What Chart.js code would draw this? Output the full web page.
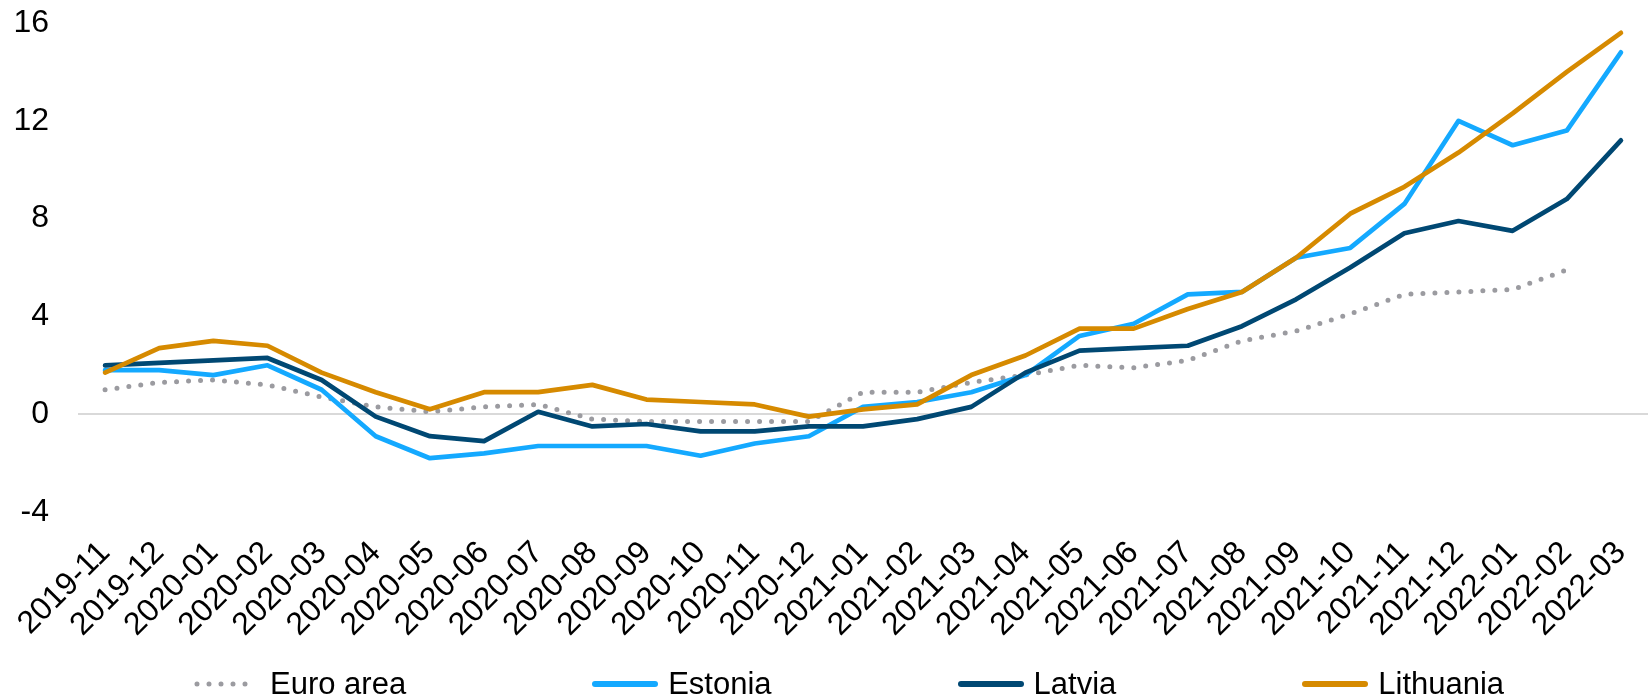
<!DOCTYPE html>
<html>
<head>
<meta charset="utf-8">
<script src="https://cdn.jsdelivr.net/npm/chart.js@4.4.1/dist/chart.umd.min.js"></script>
<style>
    body { margin: 0; background: #fff; font-family: 'Liberation Sans', Arial, sans-serif; }
    #wrap { position: relative; width: 1648px; height: 698px; }
    #legend { position: absolute; left: 194px; top: 667px; display: flex; gap: 186px; }
    .item { display: flex; align-items: center; font-size: 31px; line-height: 34px; color: #000; }
    .item svg { margin-right: 10px; }
</style>
</head>
<body>
<div id="wrap">
    <canvas id="inflationChart" width="1648" height="698"></canvas>
    <div id="legend"></div>
</div>
<script>
const months = ['2019-11', '2019-12', '2020-01', '2020-02', '2020-03', '2020-04', '2020-05', '2020-06',
    '2020-07', '2020-08', '2020-09', '2020-10', '2020-11', '2020-12', '2021-01', '2021-02', '2021-03',
    '2021-04', '2021-05', '2021-06', '2021-07', '2021-08', '2021-09', '2021-10', '2021-11', '2021-12',
    '2022-01', '2022-02', '2022-03'];

const euroArea = [1.0, 1.3, 1.4, 1.2, 0.7, 0.3, 0.1, 0.3, 0.4, -0.2, -0.3, -0.3, -0.3, -0.3,
    0.9, 0.9, 1.3, 1.6, 2.0, 1.9, 2.2, 3.0, 3.4, 4.1, 4.9, 5.0, 5.1, 5.9, null];
const estonia = [1.8, 1.8, 1.6, 2.0, 1.0, -0.9, -1.8, -1.6, -1.3, -1.3, -1.3, -1.7, -1.2, -0.9,
    0.3, 0.5, 0.9, 1.6, 3.2, 3.7, 4.9, 5.0, 6.4, 6.8, 8.6, 12.0, 11.0, 11.6, 14.8];
const latvia = [2.0, 2.1, 2.2, 2.3, 1.4, -0.1, -0.9, -1.1, 0.1, -0.5, -0.4, -0.7, -0.7, -0.5,
    -0.5, -0.2, 0.3, 1.7, 2.6, 2.7, 2.8, 3.6, 4.7, 6.0, 7.4, 7.9, 7.5, 8.8, 11.2];
const lithuania = [1.7, 2.7, 3.0, 2.8, 1.7, 0.9, 0.2, 0.9, 0.9, 1.2, 0.6, 0.5, 0.4, -0.1,
    0.2, 0.4, 1.6, 2.4, 3.5, 3.5, 4.3, 5.0, 6.4, 8.2, 9.3, 10.7, 12.3, 14.0, 15.6];

const yTicks = [-4, 0, 4, 8, 12, 16];

const FONT = "'Liberation Sans', Arial, sans-serif";
Chart.defaults.font.family = FONT;
Chart.defaults.color = '#000';

const series = [
    { label: 'Euro area', data: euroArea, color: '#9b9ba0', dotted: true, order: 3 },
    { label: 'Estonia', data: estonia, color: '#14a9ff', dotted: false, order: 2 },
    { label: 'Latvia', data: latvia, color: '#004873', dotted: false, order: 1 },
    { label: 'Lithuania', data: lithuania, color: '#d68a00', dotted: false, order: 0 }
];

new Chart(document.getElementById('inflationChart'), {
    type: 'line',
    data: {
        labels: months,
        datasets: series.map(s => ({
            label: s.label,
            data: s.data,
            borderColor: s.color,
            backgroundColor: s.color,
            borderWidth: s.dotted ? 5 : 4.7,
            borderDash: s.dotted ? [0, 12] : [],
            borderCapStyle: 'round',
            borderJoinStyle: 'round',
            pointRadius: 0,
            tension: 0,
            order: s.order
        }))
    },
    options: {
        responsive: false,
        animation: false,
        layout: { padding: 0 },
        plugins: {
            legend: { display: false },
            tooltip: { enabled: false }
        },
        scales: {
            x: {
                offset: true,
                grid: { display: false, drawTicks: false },
                border: { display: false },
                ticks: {
                    autoSkip: false,
                    minRotation: 45,
                    maxRotation: 45,
                    padding: 22,
                    font: { size: 32 }
                },
                afterFit: axis => {
                    axis.height = 186;
                    axis.paddingLeft = 0;
                    axis.paddingRight = 0;
                }
            },
            y: {
                min: -4,
                max: 16,
                grid: {
                    drawTicks: false,
                    lineWidth: 2,
                    color: ctx => ctx.tick && ctx.tick.value === 0 ? '#d9d9d9' : 'rgba(0,0,0,0)'
                },
                border: { display: false },
                afterBuildTicks: axis => { axis.ticks = yTicks.map(v => ({ value: v })); },
                ticks: { padding: 29, font: { size: 32 } },
                afterFit: axis => {
                    axis.width = 78;
                    axis.paddingTop = 23;
                    axis.paddingBottom = 0;
                }
            }
        }
    }
});

// legend built from the same series list
const legendEl = document.getElementById('legend');
series.forEach(s => {
    const item = document.createElement('div');
    item.className = 'item';
    const dash = s.dotted ? ' stroke-dasharray="0 12"' : '';
    const w = s.dotted ? 5 : 6;
    item.innerHTML = '<svg width="66" height="12"><line x1="3" y1="6" x2="63" y2="6" stroke="' + s.color +
        '" stroke-width="' + w + '" stroke-linecap="round"' + dash + '/></svg><span>' + s.label + '</span>';
    legendEl.appendChild(item);
});
</script>
</body>
</html>
